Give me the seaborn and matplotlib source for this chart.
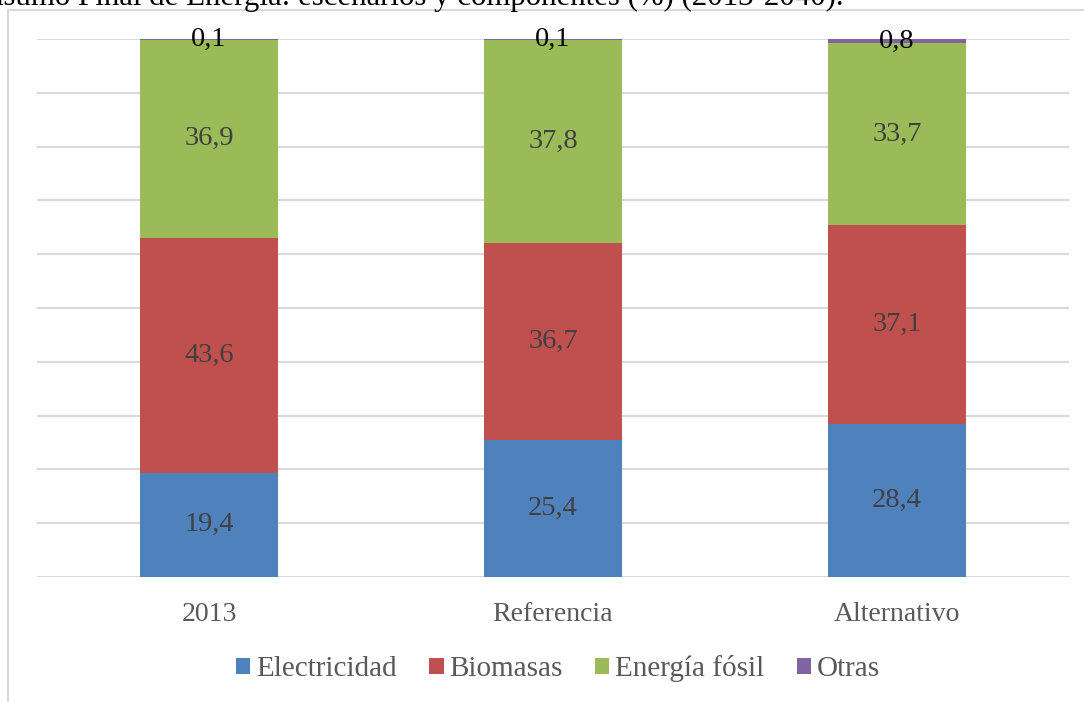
import matplotlib.pyplot as plt
import numpy as np
import pandas as pd
import seaborn as sns
from matplotlib.patches import Rectangle, Patch

escenarios = ["2013", "Referencia", "Alternativo"]
componentes = ["Electricidad", "Biomasas", "Energía fósil", "Otras"]
electricidad = [19.4, 25.4, 28.4]
biomasas = [43.6, 36.7, 37.1]
fosil = [36.9, 37.8, 33.7]
otras = [0.1, 0.1, 0.8]
colores = ["#4f81bd", "#c0504d", "#9bbb59", "#8064a2"]
titulo = "Consumo Final de Energía: escenarios y componentes (%) (2013-2040)."

sns.set_theme(style="white")
plt.rcParams["font.family"] = ["Liberation Serif", "DejaVu Serif"]

valores = np.array([electricidad, biomasas, fosil, otras])
acumulado = valores.cumsum(axis=0)

W, H = 1084, 702
fig = plt.figure(figsize=(W / 100, H / 100), dpi=100)
ax = fig.add_axes([37 / W, 1 - 577 / H, 1032 / W, (577 - 39) / H])

# stacked bars: draw cumulative totals from top layer down
for i in range(len(componentes) - 1, -1, -1):
    df = pd.DataFrame({"escenario": escenarios, "valor": acumulado[i]})
    sns.barplot(data=df, x="escenario", y="valor", color=colores[i],
                width=0.4, saturation=1, ax=ax, zorder=3, linewidth=0)

# data labels
for i in range(len(componentes)):
    for j in range(len(escenarios)):
        v = valores[i, j]
        y = acumulado[i, j] - v / 2
        col = "black" if i == 3 else "#404040"
        ax.text(j, y, f"{v:.1f}".replace(".", ","), ha="center", va="center",
                fontsize=20.5, color=col, zorder=5)

ax.set_xlim(-0.5, 2.5)
ax.set_ylim(0, 100)
ax.set_yticks(np.arange(0, 101, 10))
ax.set_yticklabels([])
ax.yaxis.grid(True, color="#d9d9d9", lw=1.5)
ax.set_axisbelow(True)
for s in ax.spines.values():
    s.set_visible(False)
ax.tick_params(axis="both", length=0)
ax.tick_params(axis="x", labelsize=20, labelcolor="#595959", pad=18)
ax.set_xlabel("")
ax.set_ylabel("")

# legend
handles = [Patch(facecolor=c, edgecolor="none") for c in colores]
leg = fig.legend(handles, componentes, loc="center", bbox_to_anchor=(558 / W, 1 - 669 / H),
                 ncol=4, frameon=False, fontsize=21, handlelength=0.5, handleheight=0.5,
                 handletextpad=0.2, columnspacing=1.1)
for t in leg.get_texts():
    t.set_color("#595959")

# chart frame and clipped title
fig.patches.append(Rectangle((8 / W, -0.1), 1.2, 1 - 10 / H + 0.1, transform=fig.transFigure,
                             fill=False, edgecolor="#d9d9d9", lw=1.5))
fig.text(843 / W, 1 - 5 / H, titulo, ha="right", va="baseline", fontsize=22.2, color="black")

fig.savefig("out.png", dpi=100)
